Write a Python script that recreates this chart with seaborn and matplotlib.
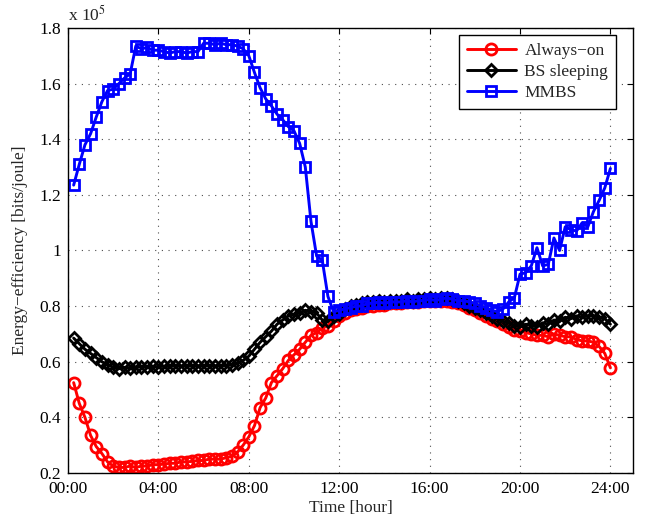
import numpy as np
import pandas as pd
import matplotlib
matplotlib.use("Agg")
import matplotlib.pyplot as plt
import seaborn as sns

# time of day in hours, one sample every 15 minutes (00:15 ... 24:00)
hours = np.arange(1, 97) / 4

# energy efficiency, in units of 1e5 bits/joule
always_on = [
    0.525, 0.45, 0.40, 0.335, 0.295, 0.27, 0.24, 0.225,
    0.22, 0.22, 0.225, 0.22, 0.225, 0.225, 0.23, 0.23, 0.232, 0.235, 0.235,
    0.24, 0.24, 0.242, 0.245, 0.245, 0.25, 0.25, 0.25, 0.255, 0.26,
    0.275, 0.30, 0.33, 0.37, 0.435, 0.47, 0.525, 0.55, 0.575, 0.605, 0.625,
    0.645, 0.67, 0.695, 0.705, 0.72, 0.73, 0.745,
    0.765, 0.775, 0.785, 0.79, 0.795, 0.80, 0.80, 0.805, 0.805, 0.81, 0.81,
    0.81, 0.815, 0.815, 0.815, 0.82, 0.82, 0.82,
    0.82, 0.82, 0.815, 0.81, 0.805, 0.795, 0.785, 0.775, 0.765, 0.755, 0.745,
    0.735, 0.725, 0.715, 0.71, 0.705, 0.70, 0.695, 0.695, 0.69, 0.70, 0.695,
    0.69, 0.69, 0.68, 0.675, 0.675, 0.67, 0.655, 0.63, 0.578,
]

bs_sleeping = [
    0.685, 0.665, 0.645, 0.63, 0.615, 0.60, 0.59, 0.58,
    0.575, 0.58, 0.578, 0.58, 0.582, 0.58, 0.583, 0.582, 0.584, 0.583, 0.585,
    0.584, 0.585, 0.584, 0.585, 0.585, 0.585, 0.585, 0.585,
    0.585, 0.59, 0.595, 0.605, 0.62, 0.645, 0.67, 0.69, 0.71, 0.735, 0.75,
    0.765, 0.77, 0.775, 0.785, 0.78, 0.775, 0.75, 0.745, 0.765,
    0.77, 0.79, 0.80, 0.805, 0.81, 0.815, 0.815, 0.82, 0.815, 0.82, 0.82,
    0.82, 0.825, 0.82, 0.825, 0.825, 0.83, 0.825,
    0.83, 0.83, 0.825, 0.82, 0.81, 0.80, 0.795, 0.785, 0.775, 0.765, 0.755,
    0.745, 0.74, 0.73, 0.725, 0.735, 0.73, 0.725, 0.74, 0.735, 0.75, 0.745,
    0.76, 0.755, 0.765, 0.76, 0.765, 0.765, 0.76, 0.755, 0.735,
]

mmbs = [
    1.235, 1.31, 1.38, 1.42, 1.48, 1.535, 1.575, 1.58, 1.60, 1.62, 1.635,
    1.735, 1.725, 1.73, 1.72, 1.72, 1.715, 1.71, 1.715, 1.715, 1.71, 1.715, 1.715,
    1.745, 1.745, 1.74, 1.745, 1.74, 1.74, 1.735, 1.725,
    1.70, 1.64, 1.585, 1.545, 1.52, 1.49, 1.47, 1.445, 1.43, 1.385, 1.30,
    1.105, 0.98, 0.965, 0.835, 0.78,
    0.785, 0.79, 0.795, 0.80, 0.80, 0.81, 0.81, 0.815, 0.81, 0.815, 0.815,
    0.815, 0.82, 0.815, 0.82, 0.82, 0.825, 0.82, 0.825, 0.83, 0.825, 0.82,
    0.82, 0.815, 0.81, 0.80, 0.795, 0.785, 0.78,
    0.79, 0.815, 0.83, 0.915, 0.92, 0.945, 1.01, 0.945, 0.95, 1.045, 1.00,
    1.085, 1.075, 1.07, 1.10, 1.085, 1.14, 1.18, 1.225, 1.295,
]

series_names = ["Always\u2212on", "BS sleeping", "MMBS"]
series_colors = ["#ff0000", "#000000", "#0000ff"]
series_markers = ["o", "D", "s"]
series_sizes = [8, 6.5, 7]

x_ticks = [0, 4, 8, 12, 16, 20, 24]
x_tick_labels = ["00:00", "04:00", "08:00", "12:00", "16:00", "20:00", "24:00"]
y_ticks = [0.2, 0.4, 0.6, 0.8, 1.0, 1.2, 1.4, 1.6, 1.8]
y_tick_labels = ["0.2", "0.4", "0.6", "0.8", "1", "1.2", "1.4", "1.6", "1.8"]

df = pd.DataFrame({"hour": hours,
                   series_names[0]: always_on,
                   series_names[1]: bs_sleeping,
                   series_names[2]: mmbs})

sns.set_theme(style="white")
plt.rcParams["font.family"] = ["Liberation Serif", "DejaVu Serif"]
plt.rcParams["mathtext.fontset"] = "stix"

fig = plt.figure(figsize=(6.52, 5.21), dpi=100)
ax = fig.add_axes([0.1043, 0.0921, 0.8666, 0.8542])

for name, col, mk, ms in zip(series_names, series_colors, series_markers, series_sizes):
    sns.lineplot(data=df, x="hour", y=name, ax=ax, color=col, label=name,
                 marker=mk, markersize=ms, markerfacecolor="none",
                 markeredgecolor=col, markeredgewidth=2, linewidth=2.1)

ax.set_xlim(0, 25)
ax.set_ylim(0.2, 1.8)
ax.set_xticks(x_ticks)
ax.set_xticklabels(x_tick_labels)
ax.set_yticks(y_ticks)
ax.set_yticklabels(y_tick_labels)
ax.tick_params(direction="in", length=4, width=0.8, top=True, right=True,
               labelsize=12.5, colors="black")
ax.tick_params(axis="x", pad=6)
ax.tick_params(axis="y", pad=5)
ax.grid(True, linestyle=(0, (1, 5)), color="0.3", linewidth=0.8)
for sp in ax.spines.values():
    sp.set_color("black")
    sp.set_linewidth(1)

ax.set_xlabel("Time [hour]", fontsize=12.5, labelpad=2)
ax.set_ylabel("Energy\u2212efficiency [bits/joule]", fontsize=12.5, labelpad=8)
ax.text(0.0, 1.008, r"x 10$^5$", transform=ax.transAxes, fontsize=12.5,
        ha="left", va="bottom")

leg = ax.legend(loc="upper right", bbox_to_anchor=(0.97, 0.985), fontsize=12.5,
                handlelength=2.8, fancybox=False, framealpha=1, edgecolor="black",
                borderaxespad=0, labelspacing=0.3, borderpad=0.45,
                handletextpad=0.5)
leg.get_frame().set_linewidth(1)

fig.savefig("out.png", dpi=100)
